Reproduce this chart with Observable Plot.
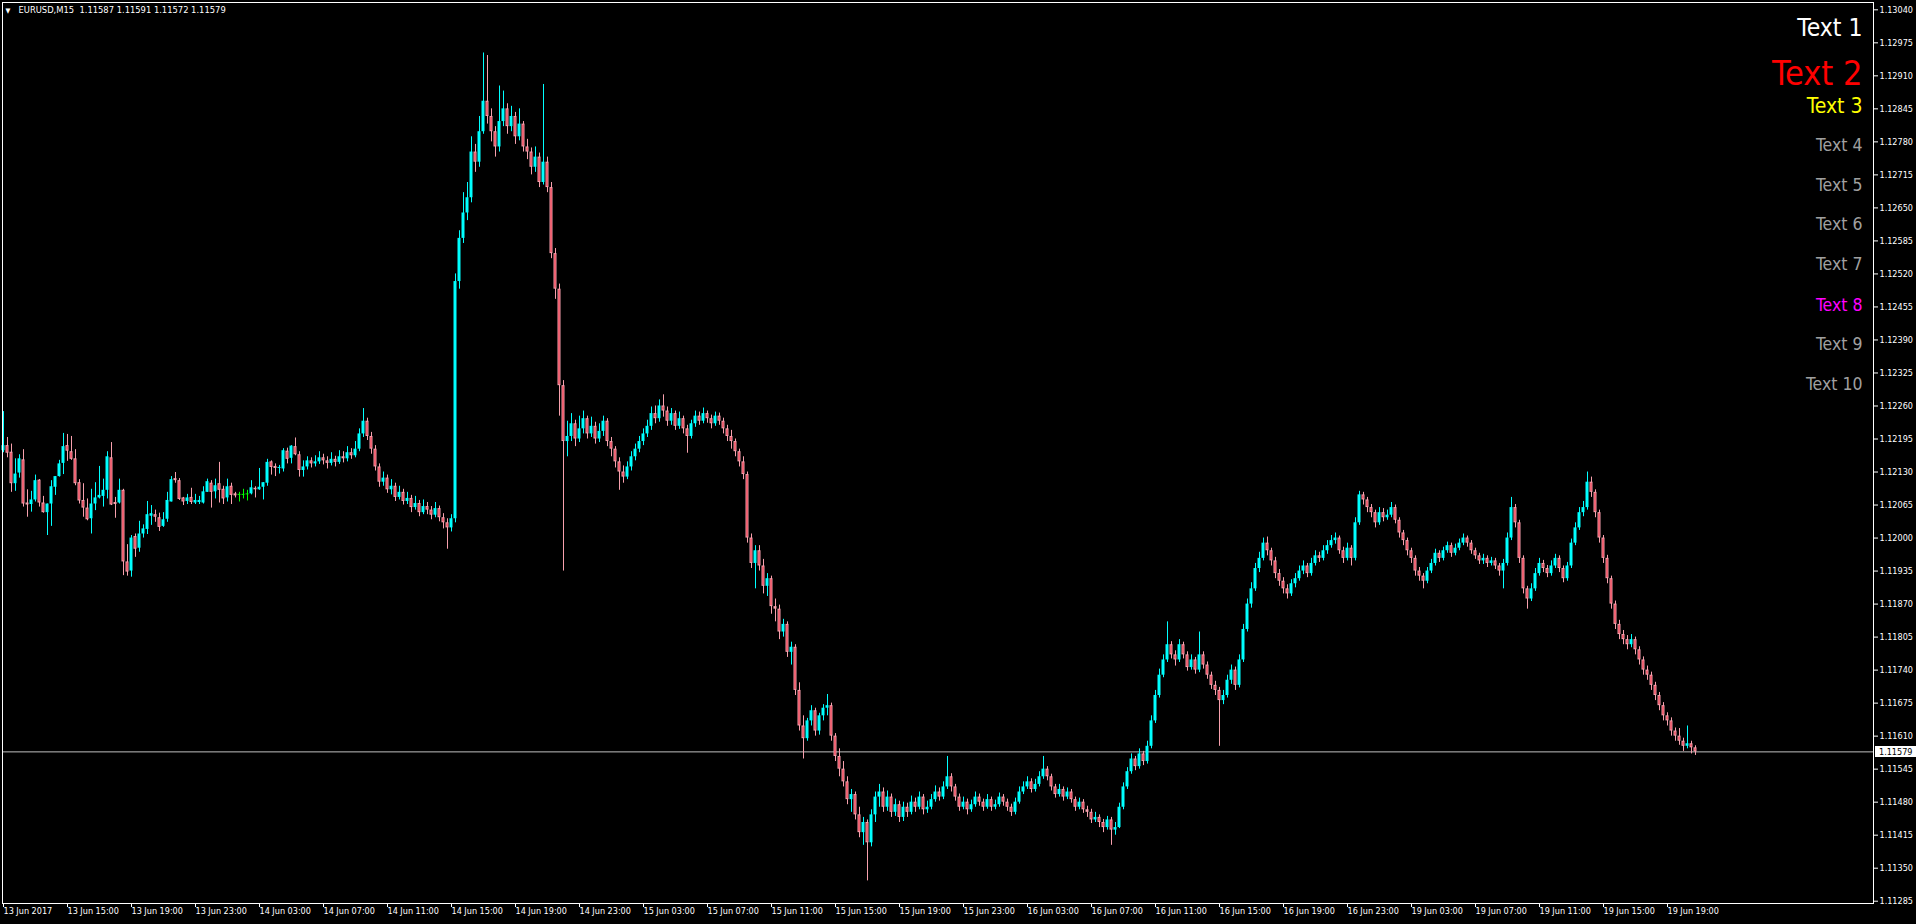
<!DOCTYPE html>
<html><head><meta charset="utf-8">
<script src="https://cdn.jsdelivr.net/npm/d3@7"></script>
<script src="https://cdn.jsdelivr.net/npm/@observablehq/plot@0.6"></script>
<style>
html,body{margin:0;padding:0;background:#000;overflow:hidden;}
#chart svg{display:block;}
</style></head><body><div id="chart"></div>
<script>
// ---------------- DATA ----------------
const symbolName = "EURUSD,M15";
const headerOHLC = [1.11587, 1.11591, 1.11572, 1.11579];
const priceBase = 1.11;      // values below are in points (0.00001) above this base
const pointSize = 0.00001;

const barOpen = [1172,1182,1169,1107,1128,1154,1069,1066,1075,1114,1069,1050,1067,1100,1121,1147,1182,1170,1156,1109,1074,1059,1038,1067,1079,1082,1094,1158,1070,1069,1094,953,935,1003,980,1008,1017,1043,1046,1040,1023,1037,1071,1117,1113,1079,1072,1080,1069,1070,1069,1090,1108,1091,1107,1096,1079,1102,1087,1086,1086,1087,1087,1098,1095,1100,1108,1150,1141,1137,1136,1171,1157,1180,1164,
1133,1140,1152,1146,1150,1158,1152,1147,1155,1149,1160,1156,1168,1162,1175,1205,1230,1200,1175,1140,1110,1118,1095,1102,1080,1090,1072,1078,1060,1068,1050,1062,1055,1045,1058,1040,1030,1020,1038,1505,1590,1640,1670,1760,1740,1800,1860,1830,1800,1770,1820,1845,1810,1830,1790,1815,1770,1760,1730,1750,1700,1740,1690,1560,1490,1300,1190,1200,1225,1195,1215,1235,1205,1220,1195,1210,1230,1190,1175,1150,1130,1120,1140,1160,1175,1190,1205,1220,1245,1235,1260,1250,1230,1245,1220,1235,1215,1200,1225,1240,1230,1245,1235,1225,1240,1230,1215,1200,
1190,1170,1150,1125,1000,950,975,945,905,920,865,860,815,830,775,785,700,630,605,640,660,620,650,665,670,610,570,545,520,485,495,455,420,440,400,455,490,
500,470,490,460,475,450,470,460,480,470,490,465,470,485,500,490,510,530,510,490,470,480,465,475,490,480,470,485,470,475,490,480,470,460,480,500,510,520,505,515,530,545,530,510,495,505,490,500,485,470,480,465,460,445,450,440,430,445,425,430,470,510,540,565,550,575,560,590,640,690,730,760,790,770,760,790,770,745,760,740,770,750,730,710,700,680,690,720,740,710,760,820,870,900,940,960,990,975,955,930,915,900,890,910,920,935,945,930,950,965,960,975,985,995,1000,975,960,980,960,1030,1085,1075,1060,1050,1030,1050,1040,1045,1060,1035,1010,995,975,960,935,925,915,935,950,970,960,975,985,970,980,990,1000,990,975,965,955,960,950,955,945,935,950,1000,1060,1030,960,900,880,900,930,950,940,930,945,960,940,920,945,990,1020,1050,1060,1110,1090,1050,1000,960,920,870,830,810,800,790,800,780,760,740,730,710,690,670,650,640,620,610,600,590,595,587];

const barHigh = [1249,1198,1185,1156,1164,1174,1095,1092,1124,1115,1082,1067,1113,1121,1153,1206,1204,1200,1174,1115,1107,1077,1096,1109,1141,1116,1170,1188,1080,1116,1096,987,1005,1008,1033,1026,1072,1064,1055,1049,1050,1090,1121,1129,1117,1080,1086,1098,1086,1082,1101,1116,1113,1116,1149,1102,1116,1108,1090,1090,1096,1094,1113,1101,1137,1109,1155,1152,1146,1143,1176,1177,1182,1197,1170,
1152,1160,1158,1162,1170,1165,1160,1168,1161,1172,1170,1180,1176,1190,1215,1255,1236,1208,1182,1146,1130,1124,1115,1108,1102,1096,1090,1084,1082,1074,1075,1070,1062,1070,1063,1048,1038,1046,1520,1605,1680,1700,1790,1775,1830,1955,1950,1845,1810,1890,1880,1855,1850,1838,1845,1820,1785,1768,1770,1758,1893,1750,1700,1570,1500,1310,1230,1245,1232,1240,1250,1240,1238,1228,1225,1240,1235,1198,1180,1158,1142,1150,1170,1185,1200,1215,1232,1258,1260,1272,1282,1258,1255,1250,1248,1240,1222,1232,1250,1248,1256,1250,1242,1248,1246,1236,1222,1212,
1195,1175,1160,1130,1008,985,985,958,930,925,880,868,840,835,795,790,715,650,645,670,665,655,672,692,675,615,585,560,530,505,500,470,450,445,465,500,515,
508,502,496,486,482,480,478,492,488,500,495,482,495,512,508,520,570,536,515,496,490,486,484,500,496,486,495,490,484,498,495,486,476,488,510,520,530,526,525,540,570,550,535,515,515,510,508,505,490,488,485,472,466,460,455,446,452,450,440,478,518,548,575,570,585,580,600,650,700,742,770,835,796,778,800,795,776,770,765,815,776,756,736,718,706,700,730,750,746,770,830,880,912,950,972,1000,1002,980,962,938,922,908,918,930,945,955,950,960,975,972,985,995,1005,1010,1004,982,990,985,1040,1092,1090,1080,1066,1055,1060,1058,1055,1070,1065,1040,1015,1000,980,965,942,930,942,958,978,975,982,992,990,988,998,1008,1004,995,980,970,968,965,962,960,950,958,1010,1080,1066,1035,965,905,910,940,960,956,946,955,968,965,945,952,998,1030,1060,1072,1130,1120,1095,1055,1005,966,925,876,838,818,808,810,805,786,766,748,736,716,696,676,656,646,626,625,606,630,600,591];

const barLow = [1168,1158,1090,1092,1118,1061,1041,1051,1071,1061,1049,1005,1023,1084,1120,1125,1151,1153,1103,1067,1041,1034,1008,1054,1077,1061,1077,1064,1039,1067,926,925,923,962,972,1000,1007,1025,1031,1013,1021,1031,1071,1108,1074,1064,1066,1066,1066,1066,1067,1090,1059,1077,1069,1066,1071,1066,1079,1071,1077,1073,1085,1079,1094,1075,1102,1124,1121,1126,1130,1146,1146,1162,1120,
1120,1134,1138,1140,1145,1144,1136,1142,1140,1145,1148,1150,1155,1158,1170,1198,1192,1165,1132,1100,1102,1088,1085,1072,1075,1065,1066,1050,1055,1042,1046,1046,1036,1040,1032,1018,978,1012,1030,1490,1580,1625,1660,1720,1730,1795,1815,1780,1750,1760,1810,1795,1800,1775,1782,1760,1745,1715,1720,1690,1695,1680,1550,1470,1240,935,1160,1190,1180,1188,1205,1195,1198,1185,1188,1200,1180,1160,1138,1094,1108,1115,1132,1152,1168,1182,1198,1212,1225,1228,1238,1220,1222,1212,1214,1205,1167,1195,1218,1222,1225,1226,1215,1220,1222,1205,1190,1175,
1160,1140,1115,990,940,900,935,890,885,850,835,800,805,765,750,690,620,565,600,630,610,612,640,650,600,560,530,510,475,460,445,410,395,325,392,440,470,
460,462,450,452,440,442,450,455,460,465,455,458,465,480,482,485,505,500,482,462,465,455,460,470,472,462,466,462,465,470,472,462,452,455,476,495,505,498,500,510,525,522,502,488,490,482,485,478,462,465,458,450,438,440,430,420,425,395,415,428,465,505,535,542,545,552,555,585,635,685,725,755,762,748,755,762,738,740,732,735,742,722,702,690,590,672,685,712,700,705,755,815,862,895,932,955,965,945,920,905,890,880,885,902,915,928,922,925,945,952,955,968,980,988,968,950,955,945,955,1025,1065,1050,1040,1020,1025,1032,1035,1040,1028,1000,985,965,950,925,915,900,910,930,945,952,955,970,962,965,975,985,982,968,958,948,948,942,945,938,925,900,945,995,1020,950,890,860,875,895,925,932,922,925,940,932,912,915,940,985,1015,1042,1055,1080,1040,990,950,910,860,820,800,790,780,784,770,750,730,720,700,680,660,640,630,610,600,592,580,585,575,572];

const barClose = [1182,1167,1107,1126,1156,1067,1065,1075,1113,1069,1050,1067,1101,1121,1146,1180,1171,1155,1107,1073,1059,1036,1067,1079,1084,1094,1160,1065,1066,1094,953,933,1000,978,1008,1018,1046,1048,1041,1021,1036,1074,1115,1113,1076,1071,1079,1070,1074,1074,1091,1111,1090,1103,1094,1077,1101,1084,1083,1086,1086,1087,1099,1095,1100,1109,1149,1139,1137,1139,1172,1155,1181,1164,1133,
1140,1152,1146,1150,1158,1152,1147,1155,1149,1160,1156,1168,1162,1175,1205,1230,1200,1175,1140,1110,1118,1095,1102,1080,1090,1072,1078,1060,1068,1050,1062,1055,1045,1058,1040,1030,1020,1038,1505,1590,1640,1670,1760,1740,1800,1860,1830,1800,1770,1820,1845,1810,1830,1790,1815,1770,1760,1730,1750,1700,1740,1690,1560,1490,1300,1190,1200,1225,1195,1215,1235,1205,1220,1195,1210,1230,1190,1175,1150,1130,1120,1140,1160,1175,1190,1205,1220,1245,1235,1260,1250,1230,1245,1220,1235,1215,1200,1225,1240,1230,1245,1235,1225,1240,1230,1215,1200,1190,
1170,1150,1125,1000,950,975,945,905,920,865,860,815,830,775,785,700,630,605,640,660,620,650,665,670,610,570,545,520,485,495,455,420,440,400,455,490,500,
470,490,460,475,450,470,460,480,470,490,465,470,485,500,490,510,530,510,490,470,480,465,475,490,480,470,485,470,475,490,480,470,460,480,500,510,520,505,515,530,545,530,510,495,505,490,500,485,470,480,465,460,445,450,440,430,445,425,430,470,510,540,565,550,575,560,590,640,690,730,760,790,770,760,790,770,745,760,740,770,750,730,710,700,680,690,720,740,710,760,820,870,900,940,960,990,975,955,930,915,900,890,910,920,935,945,930,950,965,960,975,985,995,1000,975,960,980,960,1030,1085,1075,1060,1050,1030,1050,1040,1045,1060,1035,1010,995,975,960,935,925,915,935,950,970,960,975,985,970,980,990,1000,990,975,965,955,960,950,955,945,935,950,1000,1060,1030,960,900,880,900,930,950,940,930,945,960,940,920,945,990,1020,1050,1060,1110,1090,1050,1000,960,920,870,830,810,800,790,800,780,760,740,730,710,690,670,650,640,620,610,600,590,595,587,579];

const timeTickBars = [0,16,32,48,64,80,96,112,128,144,160,176,192,208,224,240,256,272,288,304,320,336,352,368,384,400,416];
const timeTickLabels = ["13 Jun 2017","13 Jun 15:00","13 Jun 19:00","13 Jun 23:00","14 Jun 03:00","14 Jun 07:00","14 Jun 11:00","14 Jun 15:00","14 Jun 19:00","14 Jun 23:00","15 Jun 03:00","15 Jun 07:00","15 Jun 11:00","15 Jun 15:00","15 Jun 19:00","15 Jun 23:00","16 Jun 03:00","16 Jun 07:00","16 Jun 11:00","16 Jun 15:00","16 Jun 19:00","16 Jun 23:00","19 Jun 03:00","19 Jun 07:00","19 Jun 11:00","19 Jun 15:00","19 Jun 19:00"];
const priceTicks = [1.11285,1.11350,1.11415,1.11480,1.11545,1.11610,1.11675,1.11740,1.11805,1.11870,1.11935,1.12000,1.12065,1.12130,1.12195,1.12260,1.12325,1.12390,1.12455,1.12520,1.12585,1.12650,1.12715,1.12780,1.12845,1.12910,1.12975,1.13040];
const overlayTexts = ["Text 1","Text 2","Text 3","Text 4","Text 5","Text 6","Text 7","Text 8","Text 9","Text 10"];

// ---------------- STYLE / LAYOUT ----------------
const W = 1916, H = 924;
const mL = 2, mR = 43, mT = 2, mB = 21;
const BAR_PX = 4;
const FONT = "'DejaVu Sans Condensed','DejaVu Sans',sans-serif";
const UP = "#00ffff", DOWN = "#f7a0ad", DOWN_FILL = "#e8283c", DOJI = "#00ff00";
const overlayStyle = [
  {color:"#ffffff", size:24.5, y:28},
  {color:"#ff0000", size:34, y:74},
  {color:"#ffff00", size:21, y:106},
  {color:"#a0a0a0", size:17.5, y:145},
  {color:"#a0a0a0", size:17.5, y:185},
  {color:"#a0a0a0", size:17.5, y:224},
  {color:"#a0a0a0", size:17.5, y:264},
  {color:"#ff00ff", size:17.5, y:305},
  {color:"#a0a0a0", size:17.5, y:344},
  {color:"#a0a0a0", size:17.5, y:384}
];

const n = Math.min(barOpen.length, barHigh.length, barLow.length, barClose.length);
const P = v => +(priceBase + v * pointSize).toFixed(5);
const bars = [];
for (let i = 0; i < n; i++) bars.push({i, o: P(barOpen[i]), h: P(barHigh[i]), l: P(barLow[i]), c: P(barClose[i])});
const up = bars.filter(d => d.c > d.o);
const down = bars.filter(d => d.c < d.o);
const doji = bars.filter(d => d.c === d.o);
const downInner = down.filter(d => (d.o - d.c) > 0.00005);
const lastClose = headerOHLC[3];
const labelByBar = new Map(timeTickBars.map((b, k) => [b, timeTickLabels[k]]));

// bar i centred at 3 + 4i px (Plot adds a 0.5px offset -> crisp pixels)
const xDomain = [-0.25, (W - mL - mR) / BAR_PX - 0.25];
const yDomain = [1.112805, 1.130544];
const hw = 0.375;

const marks = [
  Plot.ruleY([lastClose], {stroke: "#c0c0c0", strokeWidth: 1}),
  Plot.ruleX(up, {x: "i", y1: "l", y2: "h", stroke: UP}),
  Plot.ruleX(down, {x: "i", y1: "l", y2: "h", stroke: DOWN}),
  Plot.ruleX(doji, {x: "i", y1: "l", y2: "h", stroke: DOJI}),
  Plot.rect(up, {x1: d => d.i - hw, x2: d => d.i + hw, y1: "o", y2: "c", fill: UP}),
  Plot.rect(down, {x1: d => d.i - hw, x2: d => d.i + hw, y1: "o", y2: "c", fill: DOWN}),
  Plot.rect(downInner, {x1: d => d.i - 0.125, x2: d => d.i + 0.125, y1: "o", y2: "c", fill: DOWN_FILL, insetTop: 1, insetBottom: 1}),
  Plot.ruleY(doji, {y: "o", x1: d => d.i - hw, x2: d => d.i + hw, stroke: DOJI}),
  Plot.frame({stroke: "#ffffff"}),
  Plot.axisY(priceTicks, {anchor: "right", label: null, tickSize: 4, tickPadding: 2, tickFormat: d => d.toFixed(5), color: "#ffffff", fontSize: 9}),
  Plot.axisX(timeTickBars, {anchor: "bottom", label: null, tickSize: 4, tickPadding: 0, tickFormat: d => labelByBar.get(d), textAnchor: "start", dx: 0, color: "#ffffff", fontSize: 9}),
  Plot.text(["▼"], {frameAnchor: "top-left", dx: 3, dy: 8, fill: "#ffffff", fontSize: 7, textAnchor: "start", lineAnchor: "middle"}),
  Plot.text([`${symbolName}  ${headerOHLC.map(v => v.toFixed(5)).join(" ")}`], {frameAnchor: "top-left", dx: 16, dy: 8, fill: "#ffffff", fontSize: 9.3, textAnchor: "start", lineAnchor: "middle"})
];
overlayTexts.forEach((t, k) => {
  const s = overlayStyle[k];
  marks.push(Plot.text([t], {frameAnchor: "top-right", dx: -11, dy: s.y - mT, fill: s.color, fontSize: s.size, textAnchor: "end", lineAnchor: "middle"}));
});

const chart = Plot.plot({
  width: W, height: H,
  marginLeft: mL, marginRight: mR, marginTop: mT, marginBottom: mB,
  style: {background: "#000000", color: "#ffffff", fontFamily: FONT, fontSize: "9px"},
  x: {type: "linear", domain: xDomain, axis: null},
  y: {type: "linear", domain: yDomain, axis: null},
  marks
});

// current price label box on the price scale
const ySc = chart.scale("y");
const yy = ySc.apply(lastClose);
const svg = d3.select(chart);
svg.append("rect").attr("x", W - mR + 2).attr("y", Math.round(yy) - 5).attr("width", mR - 2).attr("height", 11).attr("fill", "#ffffff");
svg.append("text").attr("x", W - mR + 6).attr("y", yy).attr("dy", "0.35em").attr("fill", "#000000")
  .attr("text-anchor", "start").attr("font-size", 9).attr("font-family", FONT).text(lastClose.toFixed(5));

document.getElementById("chart").appendChild(chart);
</script>
</body></html>
